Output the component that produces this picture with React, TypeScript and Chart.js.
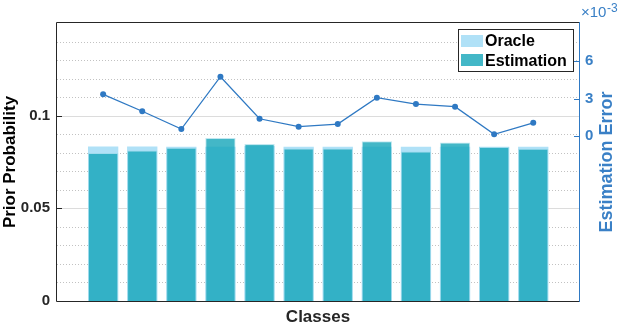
import React, { useEffect, useRef } from "react";
import { Chart, registerables } from "chart.js";

Chart.register(...registerables);

// ---- data ----
const CLASSES = [1, 2, 3, 4, 5, 6, 7, 8, 9, 10, 11, 12];
const ORACLE = [0.0833, 0.0833, 0.0832, 0.0832, 0.0836, 0.0832, 0.0832, 0.0832, 0.0832, 0.0832, 0.0832, 0.0832];
const ESTIMATION = [0.0798, 0.0812, 0.0827, 0.0880, 0.0847, 0.0823, 0.0823, 0.0862, 0.0806, 0.0855, 0.0831, 0.0821];
const ERROR_E3 = [3.35, 2.0, 0.58, 4.75, 1.4, 0.77, 0.98, 3.08, 2.57, 2.36, 0.16, 1.08];

const LEFT_TICKS = [0, 0.05, 0.1];
const RIGHT_TICKS = [0, 3, 6];
const MAJOR_GRID = [0.05, 0.1];
const MINOR_GRID = [0.01, 0.02, 0.03, 0.04, 0.06, 0.07, 0.08, 0.09, 0.11, 0.12, 0.13, 0.14];

const X_MIN = -0.18;
const X_MAX = 13.17;
const Y_MIN = 0;
const Y_MAX = 0.15;
const Y2_MIN = -13.12;
const Y2_MAX = 9.03;

// ---- styles ----
const FONT = "'Liberation Sans', Arial, Helvetica, sans-serif";
const DARK = "#262626";
const BLUE_LINE = "#2f79c3";
const BLUE_TEXT = "#3a80c6";
const ORACLE_COLOR = "rgb(176,225,247)";
const EST_COLOR = "rgba(20,165,185,0.8)";

const framePlugin = {
  id: "frame",
  beforeDatasetsDraw(chart: any) {
    const { ctx, chartArea: a, scales } = chart;
    const y = scales.y;
    ctx.save();
    ctx.lineWidth = 1;
    ctx.strokeStyle = "#c2c2c2";
    ctx.setLineDash([1, 2]);
    for (const v of MINOR_GRID) {
      const py = Math.round(y.getPixelForValue(v)) + 0.5;
      ctx.beginPath();
      ctx.moveTo(a.left, py);
      ctx.lineTo(a.right, py);
      ctx.stroke();
    }
    ctx.setLineDash([]);
    ctx.strokeStyle = "#dcdcdc";
    for (const v of MAJOR_GRID) {
      const py = Math.round(y.getPixelForValue(v)) + 0.5;
      ctx.beginPath();
      ctx.moveTo(a.left, py);
      ctx.lineTo(a.right, py);
      ctx.stroke();
    }
    ctx.restore();
  },
  afterDraw(chart: any) {
    const { ctx, chartArea: a, scales } = chart;
    const y = scales.y;
    const y2 = scales.y2;
    ctx.save();
    ctx.lineWidth = 1;
    // left/top/bottom frame
    ctx.strokeStyle = DARK;
    ctx.beginPath();
    ctx.moveTo(a.right + 0.5, a.top - 0.5);
    ctx.lineTo(a.left - 0.5, a.top - 0.5);
    ctx.lineTo(a.left - 0.5, a.bottom + 0.5);
    ctx.lineTo(a.right + 0.5, a.bottom + 0.5);
    ctx.stroke();
    // left inward ticks
    for (const v of LEFT_TICKS) {
      if (v === Y_MIN) continue;
      const py = Math.round(y.getPixelForValue(v)) + 0.5;
      ctx.beginPath();
      ctx.moveTo(a.left, py);
      ctx.lineTo(a.left + 5, py);
      ctx.stroke();
    }
    // right axis
    ctx.strokeStyle = BLUE_LINE;
    ctx.beginPath();
    ctx.moveTo(a.right + 0.5, a.top - 1);
    ctx.lineTo(a.right + 0.5, a.bottom + 1);
    ctx.stroke();
    for (const v of RIGHT_TICKS) {
      const py = Math.round(y2.getPixelForValue(v)) + 0.5;
      ctx.beginPath();
      ctx.moveTo(a.right - 5, py);
      ctx.lineTo(a.right, py);
      ctx.stroke();
    }
    // right title
    ctx.fillStyle = BLUE_TEXT;
    ctx.font = `bold 18px ${FONT}`;
    ctx.textAlign = "center";
    ctx.textBaseline = "middle";
    ctx.save();
    ctx.translate(607, (a.top + a.bottom) / 2);
    ctx.rotate(-Math.PI / 2);
    ctx.fillText("Estimation Error", 0, 0);
    ctx.restore();
    // exponent label
    ctx.textAlign = "left";
    ctx.textBaseline = "alphabetic";
    ctx.font = `15px ${FONT}`;
    ctx.fillText("\u00d710", 581, 17);
    ctx.font = `12px ${FONT}`;
    ctx.fillText("-3", 607, 11.5);

    // legend
    const lx = 458.5, ly = 29.5, lw = 115, lh = 42;
    ctx.fillStyle = "#ffffff";
    ctx.fillRect(lx, ly, lw, lh);
    ctx.strokeStyle = DARK;
    ctx.strokeRect(lx, ly, lw, lh);
    const items = chart.data.datasets.filter((d: any) => d.type !== "line");
    const rows = [35, 54];
    const baselines = [46, 65.5];
    ctx.font = `bold 16px ${FONT}`;
    items.forEach((d: any, i: number) => {
      ctx.fillStyle = "#ffffff";
      ctx.fillRect(461, rows[i], 22, 12);
      ctx.fillStyle = d.backgroundColor;
      ctx.fillRect(461, rows[i], 22, 12);
      ctx.fillStyle = "#000000";
      ctx.fillText(d.label, 485, baselines[i]);
    });
    ctx.restore();
  },
};

export default function App() {
  const ref = useRef<HTMLCanvasElement | null>(null);
  useEffect(() => {
    if (!ref.current) return;
    const chart = new Chart(ref.current, {
      type: "bar",
      data: {
        datasets: [
          {
            type: "line",
            label: "Error",
            data: CLASSES.map((c, i) => ({ x: c, y: ERROR_E3[i] })),
            yAxisID: "y2",
            xAxisID: "x",
            borderColor: BLUE_LINE,
            backgroundColor: BLUE_LINE,
            borderWidth: 1.3,
            pointRadius: 3,
            pointBorderWidth: 0,
            pointBackgroundColor: BLUE_LINE,
            order: 0,
          } as any,
          {
            type: "bar",
            label: "Oracle",
            data: CLASSES.map((c, i) => ({ x: c, y: ORACLE[i] })),
            yAxisID: "y",
            backgroundColor: ORACLE_COLOR,
            borderWidth: 0,
            grouped: false,
            categoryPercentage: 1,
            barPercentage: 0.775,
            order: 3,
          } as any,
          {
            type: "bar",
            label: "Estimation",
            data: CLASSES.map((c, i) => ({ x: c, y: ESTIMATION[i] })),
            yAxisID: "y",
            backgroundColor: EST_COLOR,
            borderColor: "rgba(150,215,230,0.6)",
            borderWidth: 1,
            grouped: false,
            categoryPercentage: 1,
            barPercentage: 0.775,
            order: 2,
          } as any,
        ],
      },
      options: {
        animation: false,
        responsive: false,
        devicePixelRatio: 1,
        layout: { padding: { top: 23, left: 0, right: 0, bottom: 0 } },
        plugins: { legend: { display: false }, tooltip: { enabled: false } },
        scales: {
          x: {
            type: "linear",
            offset: false,
            min: X_MIN,
            max: X_MAX,
            afterBuildTicks: (s: any) => {
              s.ticks = CLASSES.map((v) => ({ value: v }));
            },
            ticks: { display: false },
            grid: { display: false, drawTicks: false, offset: false },
            border: { display: false },
            title: {
              display: true,
              text: "Classes",
              color: DARK,
              font: { family: FONT, size: 17, weight: "bold", lineHeight: 0.8 },
              padding: 0,
            },
            afterFit: (s: any) => {
              s.height = 23;
            },
          },
          y: {
            type: "linear",
            position: "left",
            min: Y_MIN,
            max: Y_MAX,
            afterBuildTicks: (s: any) => {
              s.ticks = LEFT_TICKS.map((v) => ({ value: v }));
            },
            ticks: {
              color: DARK,
              font: { family: FONT, size: 15, weight: "bold" },
              padding: 7,
              callback: (v: any) => String(v),
            },
            grid: { display: false, drawTicks: false },
            border: { display: false },
            title: {
              display: true,
              text: "Prior Probability",
              color: "#000000",
              font: { family: FONT, size: 17, weight: "bold", lineHeight: 1.27 },
              padding: 0,
            },
            afterFit: (s: any) => {
              s.width = 57;
            },
          },
          y2: {
            type: "linear",
            position: "right",
            min: Y2_MIN,
            max: Y2_MAX,
            afterBuildTicks: (s: any) => {
              s.ticks = RIGHT_TICKS.map((v) => ({ value: v }));
            },
            ticks: {
              color: BLUE_TEXT,
              font: { family: FONT, size: 15, weight: "bold" },
              padding: 6,
              callback: (v: any) => String(v),
            },
            grid: { display: false, drawTicks: false },
            border: { display: false },
            afterFit: (s: any) => {
              s.width = 44;
            },
          },
        },
      } as any,
      plugins: [framePlugin],
    });
    return () => chart.destroy();
  }, []);

  return (
    <div style={{ position: "absolute", left: 0, top: 0, width: 623, height: 324, background: "#fff" }}>
      <canvas ref={ref} width={623} height={324} style={{ display: "block" }} />
    </div>
  );
}
